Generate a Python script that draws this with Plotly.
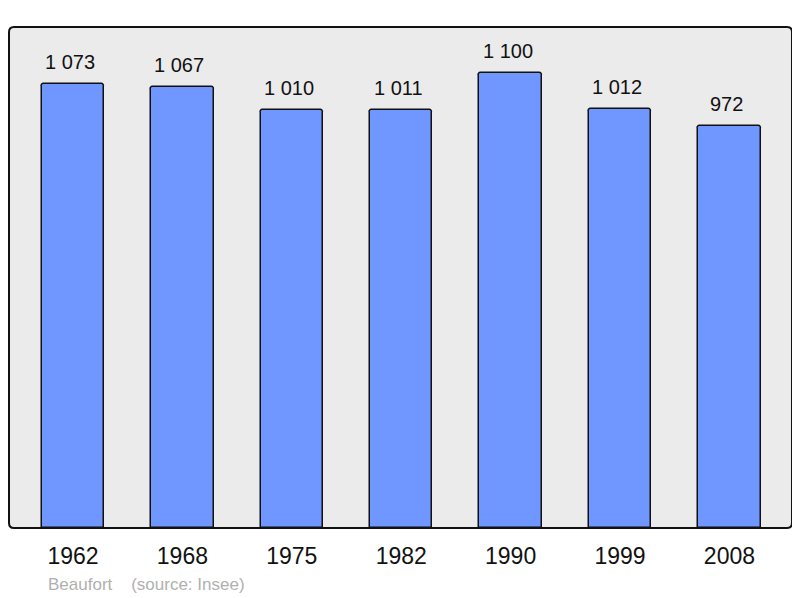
import plotly.graph_objects as go

years = ["1962", "1968", "1975", "1982", "1990", "1999", "2008"]
population = [1073, 1067, 1010, 1011, 1100, 1012, 972]
labels = [f"{v:,}".replace(",", " ") for v in population]

# page has an 8px body margin; compensate
OFF = 8
W, H = 800 - OFF, 598 - OFF
L, R, T, B = 9 - OFF, 8, 27 - OFF, 70
PW, PH = W - L - R, H - T - B
xpos = list(range(len(years)))

fig = go.Figure()
fig.add_trace(go.Bar(
    x=xpos, y=population, width=0.57,
    marker=dict(color="#7096ff", line=dict(color="#111111", width=1.5), cornerradius=3),
    hoverinfo="skip",
))
for xi, v, lab in zip(xpos, population, labels):
    fig.add_annotation(x=xi, y=v, text=lab, showarrow=False, yanchor="bottom",
                       yshift=9, xshift=-3, font=dict(size=20, color="#111111"))

r = 5
rx, ry = r / PW, r / PH
border = (f"M {rx},0 L {1-rx},0 Q 1,0 1,{ry} L 1,{1-ry} Q 1,1 {1-rx},1 "
          f"L {rx},1 Q 0,1 0,{1-ry} L 0,{ry} Q 0,0 {rx},0 Z")

fig.update_layout(
    width=W, height=H,
    margin=dict(l=L, r=R, t=T, b=B),
    paper_bgcolor="white", plot_bgcolor="white",
    font=dict(family="Liberation Sans, Arial, sans-serif"),
    showlegend=False,
    bargap=0,
    xaxis=dict(range=[-0.585, 6.572], tickmode="array", tickvals=xpos, ticktext=years,
               showgrid=False, zeroline=False, showline=False, ticks="",
               ticklabelstandoff=12,
               tickfont=dict(size=23, color="#111111")),
    yaxis=dict(range=[0, 1211], showgrid=False, zeroline=False, showticklabels=False,
               showline=False, ticks=""),
    shapes=[
        dict(type="path", xref="paper", yref="paper", path=border,
             fillcolor="#ebebeb", line=dict(width=0), layer="below"),
        dict(type="path", xref="paper", yref="paper", path=border,
             fillcolor="rgba(0,0,0,0)", line=dict(color="#111111", width=2), layer="above"),
    ],
    annotations=list(fig.layout.annotations) + [
        dict(xref="paper", yref="paper", x=(46 - 9) / PW, y=-(584 - 528) / PH,
             xanchor="left", yanchor="middle", showarrow=False,
             text="Beaufort\u00a0\u00a0\u00a0\u00a0(source: Insee)",
             font=dict(size=17, color="#b0b0b0")),
    ],
)
fig.write_html("out.html")
